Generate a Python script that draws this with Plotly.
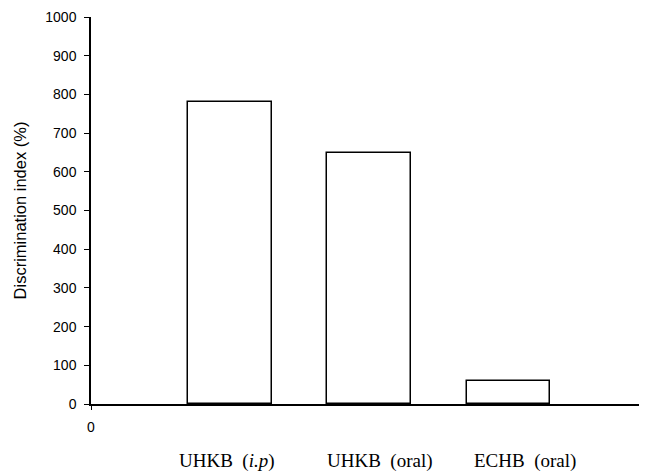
import plotly.graph_objects as go

categories = ["UHKB (<i>i.p</i>)", "UHKB (oral)", "ECHB (oral)"]
positions = [1, 2, 3]
values = [780, 649, 59]
label_shift = [-3, 11, 17]
y_ticks = list(range(0, 1001, 100))

fig = go.Figure()
fig.add_trace(go.Bar(
    x=positions, y=values, width=0.6,
    marker=dict(color="white", line=dict(color="black", width=1.5)),
    showlegend=False,
))

for pos, lab, sh in zip(positions, categories, label_shift):
    fig.add_annotation(
        x=pos, xref="x", y=0, yref="paper", yanchor="middle",
        yshift=-57, xshift=sh, showarrow=False,
        text=lab.replace(" ", "\u00a0\u00a0"),
        font=dict(family="Liberation Serif, Times New Roman, serif", size=19, color="black"),
    )

# page body adds an 8px margin, so the figure is 8px smaller than the window
fig.update_layout(
    width=643, height=464,
    margin=dict(l=83, r=12, t=9, b=68),
    plot_bgcolor="white", paper_bgcolor="white",
    font=dict(family="Liberation Sans, Arial, sans-serif", size=12, color="black"),
    bargap=0,
)
fig.update_xaxes(
    range=[0, 3.94], showline=True, linecolor="black", linewidth=1.5,
    tickvals=[0], ticktext=["0"], ticks="outside", ticklen=4, tickcolor="black",
    ticklabelstandoff=5, showgrid=False, zeroline=False, automargin=False,
    tickfont=dict(size=14),
)
fig.update_yaxes(
    range=[0, 1000], tickvals=y_ticks, showline=True, linecolor="black", linewidth=1.5,
    ticks="outside", ticklen=5, tickcolor="black", showgrid=False, zeroline=False,
    ticklabelstandoff=5, automargin=False,
    title=dict(text="Discrimination index (%)", font=dict(size=16.5), standoff=15),
    tickfont=dict(size=14),
)

fig.write_html("out.html")
